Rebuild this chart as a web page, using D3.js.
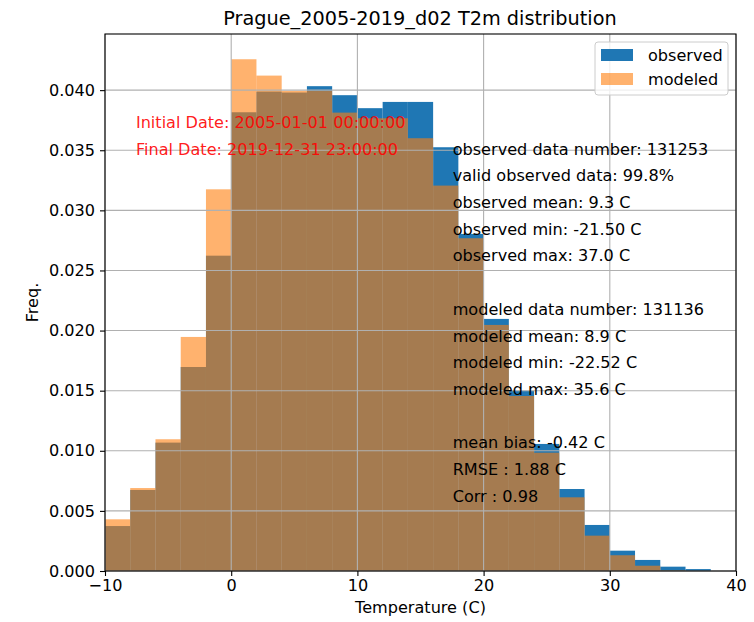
<!DOCTYPE html>
<html>
<head>
<meta charset="utf-8">
<script src="https://cdn.jsdelivr.net/npm/d3@7"></script>
<style>
  body { margin: 0; background: #fff; }
  svg { font-family: "DejaVu Sans", sans-serif; }
</style>
</head>
<body>
<script>
// bin left edges (2 C wide)
const binStarts = [-10, -8, -6, -4, -2, 0, 2, 4, 6, 8, 10, 12, 14, 16, 18, 20, 22, 24, 26, 28, 30, 32, 34, 36];
const binWidth = 2;
const observed = [0.00374, 0.00674, 0.01068, 0.01697, 0.02623, 0.03816, 0.03988, 0.0398, 0.04033, 0.03958, 0.0385, 0.03902,
                  0.03902, 0.03525, 0.02804, 0.02097, 0.0150, 0.01057, 0.00682, 0.00383, 0.00169, 0.00092, 0.00036, 0.00016];
const modeled = [0.0043, 0.0069, 0.01096, 0.01947, 0.03175, 0.04257, 0.04121, 0.03994, 0.03994, 0.03813, 0.03766, 0.03766,
                 0.036, 0.03206, 0.02768, 0.02047, 0.01456, 0.00984, 0.00613, 0.00294, 0.00131, 0.00044, 0.00005, 0];
const xTicks = [-10, 0, 10, 20, 30, 40];
const yTicks = [0, 0.005, 0.01, 0.015, 0.02, 0.025, 0.03, 0.035, 0.04];
const dateLines = ["Initial Date: 2005-01-01 00:00:00", "Final Date: 2019-12-31 23:00:00"];
const statLines = ["observed data number: 131253", "valid observed data: 99.8%", "observed mean: 9.3 C",
                   "observed min: -21.50 C", "observed max: 37.0 C", "",
                   "modeled data number: 131136", "modeled mean: 8.9 C", "modeled min: -22.52 C",
                   "modeled max: 35.6 C", "", "mean bias: -0.42 C", "RMSE : 1.88 C", "Corr : 0.98"];
const series = [
  { name: "observed", values: observed, color: "#1f77b4", opacity: 1 },
  { name: "modeled", values: modeled, color: "#ff7f0e", opacity: 0.6 }
];

const W = 754, H = 622;
const margin = { top: 34, right: 18, bottom: 51, left: 105 };
const width = W - margin.left - margin.right;
const height = H - margin.top - margin.bottom;
const fs = "16.1px";

const svg = d3.select("body").append("svg")
  .attr("width", W).attr("height", H);

const g = svg.append("g").attr("transform", `translate(${margin.left},${margin.top})`);

const x = d3.scaleLinear().domain([-10, 40]).range([0, width]);
const y = d3.scaleLinear().domain([0, 0.04467]).range([height, 0]);

g.append("clipPath").attr("id", "clip")
  .append("rect").attr("width", width).attr("height", height);

const plot = g.append("g").attr("clip-path", "url(#clip)");

series.forEach(s => {
  plot.append("g")
    .selectAll("rect")
    .data(binStarts.map((b, i) => ({ b, v: s.values[i] })))
    .enter().append("rect")
    .attr("x", d => x(d.b))
    .attr("width", d => x(d.b + binWidth) - x(d.b))
    .attr("y", d => y(d.v))
    .attr("height", d => y(0) - y(d.v))
    .attr("fill", s.color)
    .attr("fill-opacity", s.opacity);
});

// grid on top of the bars
const grid = g.append("g").attr("stroke", "#b0b0b0").attr("stroke-width", 1.1);
grid.selectAll(".gx").data(xTicks).enter().append("line")
  .attr("x1", d => x(d)).attr("x2", d => x(d)).attr("y1", 0).attr("y2", height);
grid.selectAll(".gy").data(yTicks).enter().append("line")
  .attr("y1", d => y(d)).attr("y2", d => y(d)).attr("x1", 0).attr("x2", width);

// text annotations
g.append("g").selectAll("text").data(dateLines).enter().append("text")
  .attr("x", x(-7.55))
  .attr("y", (d, i) => 88 + i * 27)
  .attr("dy", "0.35em")
  .attr("fill", "#ff0000")
  .attr("fill-opacity", 0.9)
  .style("font-size", fs)
  .text(d => d);

g.append("g").selectAll("text").data(statLines).enter().append("text")
  .attr("x", x(17.55))
  .attr("y", (d, i) => 115 + i * 26.7)
  .attr("dy", "0.35em")
  .attr("fill", "#000")
  .style("font-size", fs)
  .text(d => d);

// axes
const xAxis = g.append("g").attr("transform", `translate(0,${height})`)
  .call(d3.axisBottom(x).tickValues(xTicks).tickSize(5).tickPadding(4)
    .tickFormat(d => d < 0 ? "\u2212" + Math.abs(d) : d));
const yAxis = g.append("g")
  .call(d3.axisLeft(y).tickValues(yTicks).tickSize(5).tickPadding(5).tickFormat(d3.format(".3f")));
[xAxis, yAxis].forEach(a => {
  a.select(".domain").remove();
  a.selectAll("line").attr("stroke", "#000").attr("stroke-width", 1.1);
  a.selectAll("text").style("font-size", fs).style("font-family", "DejaVu Sans").attr("fill", "#000");
});

// frame
g.append("rect").attr("width", width).attr("height", height)
  .attr("fill", "none").attr("stroke", "#000").attr("stroke-width", 1.1);

// labels
svg.append("text").attr("x", margin.left + width / 2 - 0.5).attr("y", 18).attr("dy", "0.35em")
  .attr("text-anchor", "middle").style("font-size", "19.3px").text("Prague_2005-2019_d02 T2m distribution");
svg.append("text").attr("x", margin.left + width / 2).attr("y", 607).attr("dy", "0.35em")
  .attr("text-anchor", "middle").style("font-size", fs).text("Temperature (C)");
svg.append("text").attr("transform", `translate(32,${margin.top + height / 2}) rotate(-90)`).attr("dy", "0.35em")
  .attr("text-anchor", "middle").style("font-size", fs).text("Freq.");

// legend
const leg = svg.append("g").attr("transform", "translate(595,42)");
leg.append("rect").attr("width", 133).attr("height", 53).attr("rx", 3)
  .attr("fill", "#fff").attr("fill-opacity", 0.8).attr("stroke", "#cccccc").attr("stroke-width", 1);
series.forEach((s, i) => {
  leg.append("rect").attr("x", 6).attr("y", 7 + i * 24).attr("width", 32).attr("height", 12)
    .attr("fill", s.color).attr("fill-opacity", s.opacity);
  leg.append("text").attr("x", 53).attr("y", 13 + i * 24).attr("dy", "0.35em")
    .style("font-size", fs).text(s.name);
});
</script>
</body>
</html>
